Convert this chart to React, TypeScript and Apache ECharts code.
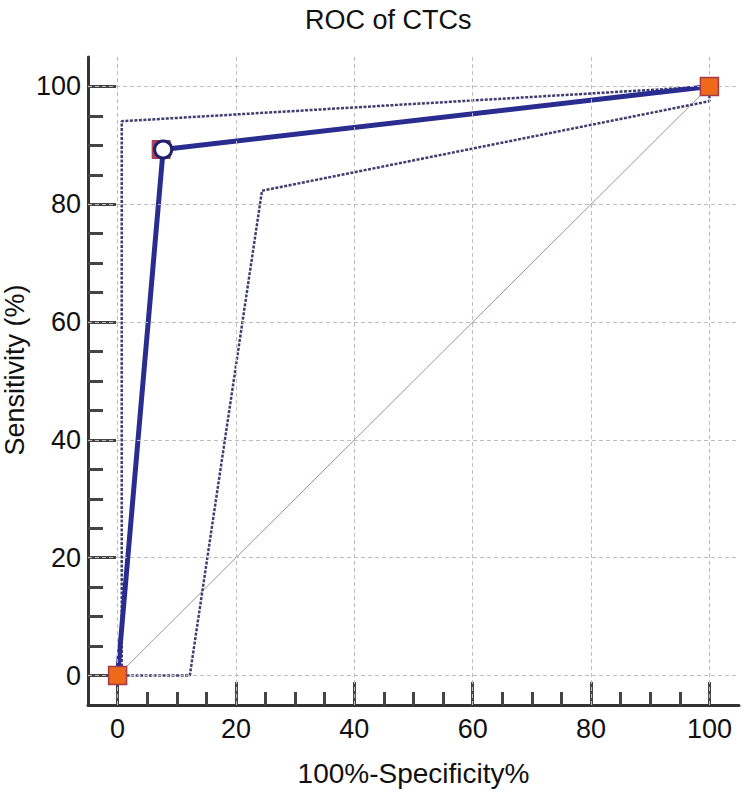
import React, { useEffect, useRef } from "react";
import * as echarts from "echarts";

const majorTicks = [0, 20, 40, 60, 80, 100];
const minorTicks = [5, 10, 15, 25, 30, 35, 45, 50, 55, 65, 70, 75, 85, 90, 95];
const rocCurve: [number, number][] = [[0, 0], [7.7, 89.3], [100, 100]];
const upperCI: [number, number][] = [[0.7, 0], [0.7, 94.1], [100, 100]];
const lowerCI: [number, number][] = [[0, 0], [12.2, 0], [24.4, 82.3], [100, 97.5], [100, 100]];
const diagonal: [number, number][] = [[0, 0], [100, 100]];
const endPoints: [number, number][] = [[0, 0], [100, 100]];
const cutoffPoint: [number, number][] = [[7.7, 89.3]];

const FONT = "Liberation Sans, Arial, Helvetica, sans-serif";

export default function App() {
  const ref = useRef<HTMLDivElement>(null);
  useEffect(() => {
    if (!ref.current) return;
    const chart = echarts.init(ref.current, undefined, { renderer: "svg" });
    const axisBase = {
      type: "value" as const,
      min: -5,
      max: 105,
      splitLine: { show: false },
    };
    chart.setOption({
      animation: false,
      backgroundColor: "#ffffff",
      title: {
        text: "ROC of CTCs",
        left: 300,
        top: 1,
        textStyle: { fontFamily: FONT, fontSize: 27, fontWeight: "normal", color: "#111" },
      },
      grid: { left: 88, top: 57, width: 651, height: 650, containLabel: false },
      xAxis: [
        {
          ...axisBase,
          position: "bottom",
          axisLine: { show: true, onZero: false, lineStyle: { color: "#333", width: 3 } },
          axisTick: { show: true, inside: true, length: 23, customValues: majorTicks, lineStyle: { color: "#444", width: 3 } },
          axisLabel: { show: true, customValues: majorTicks, fontFamily: FONT, fontSize: 27, color: "#111", margin: 10 },
          name: "100%-Specificity%",
          nameLocation: "middle",
          nameGap: 54,
          nameTextStyle: { fontFamily: FONT, fontSize: 28, color: "#111" },
        },
        {
          ...axisBase,
          position: "bottom",
          offset: 0,
          axisLine: { show: false, onZero: false },
          axisTick: { show: true, inside: true, length: 13, customValues: minorTicks, lineStyle: { color: "#444", width: 3 } },
          axisLabel: { show: false },
        },
      ],
      yAxis: [
        {
          ...axisBase,
          position: "left",
          axisLine: { show: true, onZero: false, lineStyle: { color: "#333", width: 3 } },
          axisTick: { show: true, inside: true, length: 28, customValues: majorTicks, lineStyle: { color: "#444", width: 3 } },
          axisLabel: { show: true, customValues: majorTicks, fontFamily: FONT, fontSize: 27, color: "#111", margin: 7 },
        },
        {
          ...axisBase,
          position: "left",
          offset: 0,
          axisLine: { show: false, onZero: false },
          axisTick: { show: true, inside: true, length: 15, customValues: minorTicks, lineStyle: { color: "#444", width: 3 } },
          axisLabel: { show: false },
        },
      ],
      graphic: [
        {
          type: "text",
          x: 15,
          y: 370,
          rotation: Math.PI / 2,
          style: {
            text: "Sensitivity (%)",
            fontFamily: FONT,
            fontSize: 27,
            fill: "#111",
            align: "center",
            verticalAlign: "middle",
          },
        },
      ],
      series: [
        {
          type: "line",
          xAxisIndex: 0,
          yAxisIndex: 0,
          data: [],
          silent: true,
          markLine: {
            silent: true,
            symbol: "none",
            label: { show: false },
            lineStyle: { color: "#bdbdbd", width: 1, type: [4, 3] },
            data: [
              ...majorTicks.map((v) => ({ xAxis: v })),
              ...majorTicks.map((v) => ({ yAxis: v })),
            ],
          },
          z: 1,
        },
        {
          type: "line",
          data: diagonal,
          symbol: "none",
          lineStyle: { color: "#a88e8e", width: 1 },
          z: 2,
        },
        {
          type: "line",
          data: upperCI,
          symbol: "none",
          lineStyle: { color: "#3e3e70", width: 2.5, type: [3, 1.5] },
          z: 3,
        },
        {
          type: "line",
          data: lowerCI,
          symbol: "none",
          lineStyle: { color: "#3e3e70", width: 2.5, type: [3, 1.5] },
          z: 3,
        },
        {
          type: "line",
          data: rocCurve,
          symbol: "none",
          lineStyle: { color: "#2a2c90", width: 5 },
          z: 4,
        },
        {
          type: "scatter",
          data: endPoints,
          symbol: "rect",
          symbolSize: 18,
          itemStyle: { color: "#ee6a1a", borderColor: "#a33a4a", borderWidth: 1.5, opacity: 1 },
          z: 5,
        },
        {
          type: "scatter",
          data: cutoffPoint,
          symbol: "rect",
          symbolSize: 18,
          symbolOffset: [-2, 0],
          itemStyle: { color: "#b8405a", borderColor: "#a33a4a", borderWidth: 1, opacity: 1 },
          z: 5,
        },
        {
          type: "scatter",
          data: cutoffPoint,
          symbol: "circle",
          symbolSize: 17,
          itemStyle: { color: "#ffffff", borderColor: "#1f226a", borderWidth: 3, opacity: 1 },
          z: 6,
        },
      ],
    });
    return () => chart.dispose();
  }, []);
  return <div ref={ref} style={{ width: 744, height: 792, position: "absolute", left: 0, top: 0 }} />;
}
